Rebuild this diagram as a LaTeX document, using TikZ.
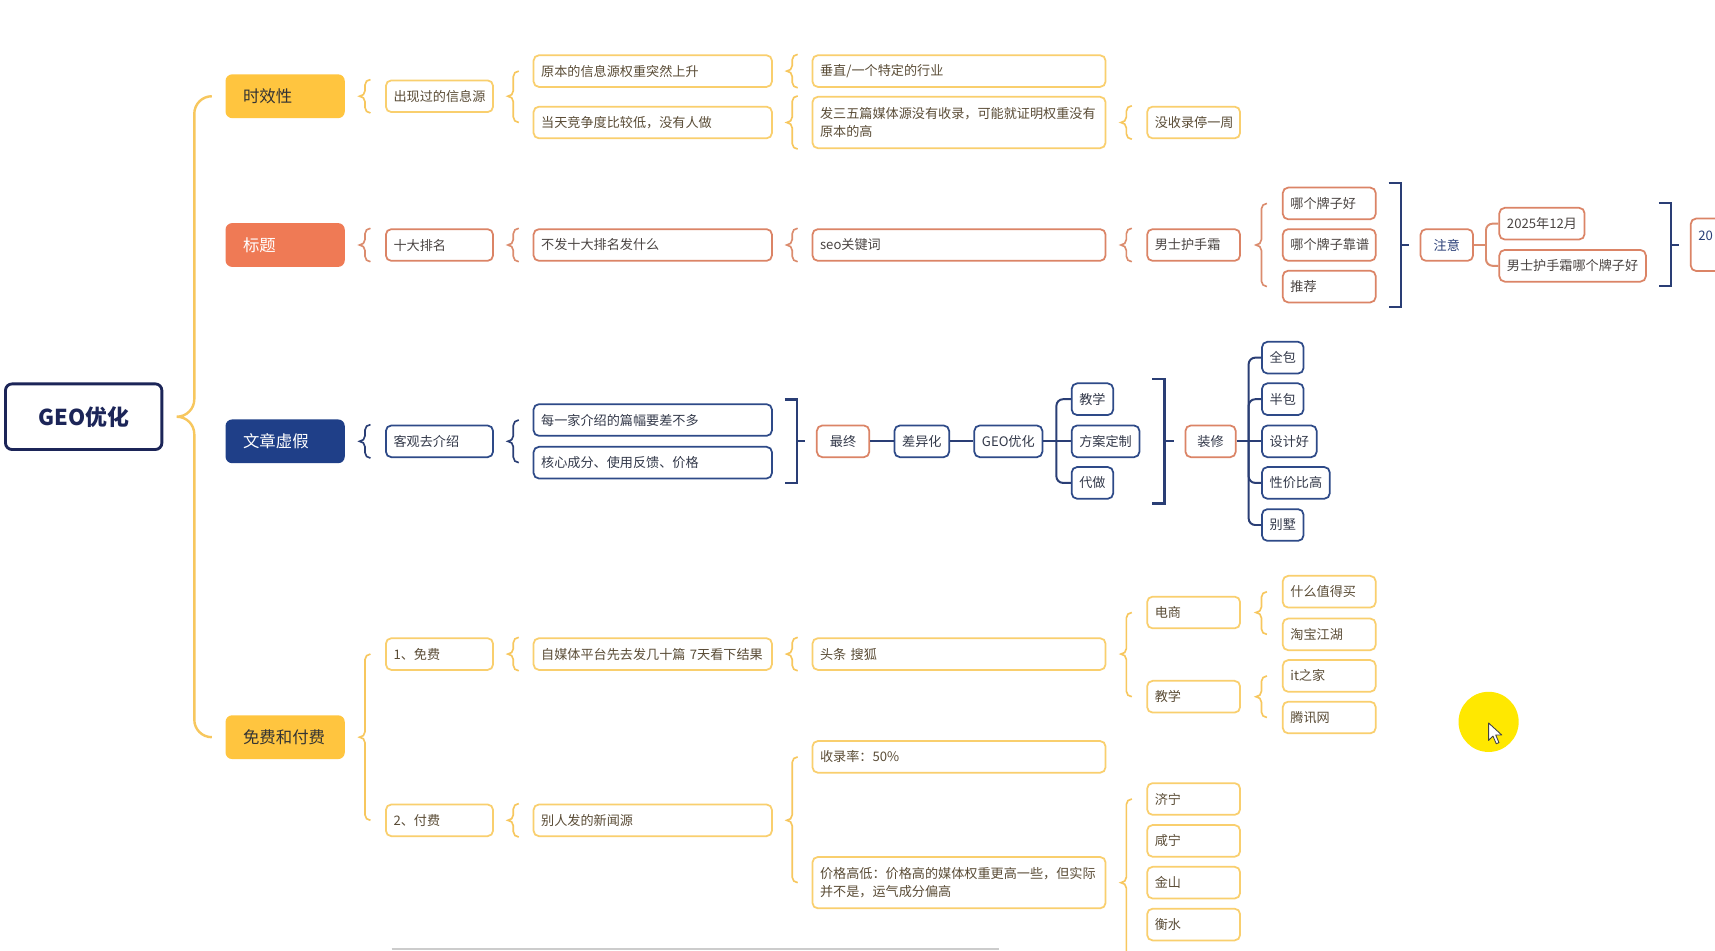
\documentclass[tikz,border=0pt]{standalone}
\usepackage{fontspec}
\setmainfont{Noto Sans CJK SC}
\usetikzlibrary{calc}
\definecolor{yfill}{HTML}{FFC53F}
\definecolor{ofill}{HTML}{EF7A55}
\definecolor{nfill}{HTML}{1F3F88}
\definecolor{ybord}{HTML}{F9CF6E}
\definecolor{obord}{HTML}{DB8466}
\definecolor{nbord}{HTML}{2E4A88}
\definecolor{ylinec}{HTML}{F7C75E}
\definecolor{olinec}{HTML}{DB8C6E}
\definecolor{nlinec}{HTML}{2A3E75}
\definecolor{ytext}{HTML}{5A4C36}
\definecolor{otext}{HTML}{4A4442}
\definecolor{ntext}{HTML}{33394A}
\definecolor{dtext}{HTML}{333333}
\definecolor{geoc}{HTML}{1C2558}
\definecolor{zyc}{HTML}{2B4078}
\tikzset{
  boxbase/.style={rounded corners=5pt, line width=1.6pt, inner xsep=7pt, inner ysep=0pt,
    minimum height=29pt, font=\fontsize{12}{17}\selectfont, anchor=west, fill=white},
  yb/.style={boxbase, draw=ybord, text=ytext},
  ob/.style={boxbase, draw=obord, text=otext},
  nb/.style={boxbase, draw=nbord, text=ntext},
  tw/.style={text width=#1, align=left},
  lvlone/.style={rounded corners=6pt, minimum width=109pt, minimum height=40pt, anchor=west,
    inner xsep=16pt, inner ysep=0pt, text width=77pt, align=left, font=\fontsize{15}{18}\selectfont},
  geobox/.style={draw=geoc, line width=2.6pt, rounded corners=6pt, minimum width=143pt,
    minimum height=60pt, text=geoc, font=\bfseries\fontsize{20}{24}\selectfont},
  ybr/.style={draw=ylinec, line width=1.5pt},
  obr/.style={draw=olinec, line width=1.5pt},
  nbr/.style={draw=nlinec, line width=1.5pt},
  trunk/.style={draw=ylinec, line width=2.2pt},
  brk/.style={draw=nlinec, line width=2pt},
  nconn/.style={draw=nlinec, line width=1.8pt},
  oconn/.style={draw=olinec, line width=1.8pt},
}
% curly brace: style, parent, top point, bottom point, half width
\newcommand\cbr[5]{\draw[#1] let \p0=(#2.east), \p1=(#3), \p2=(#4), \n1={(\x0+\x1)/2} in
  ({\n1+#5},\y1) to[out=180,in=90] (\n1,{\y1-#5}) -- (\n1,{\y0+#5})
  to[out=-90,in=0] ({\n1-#5},\y0) to[out=0,in=90] (\n1,{\y0-#5}) -- (\n1,{\y2+#5})
  to[out=-90,in=180] ({\n1+#5},\y2);}
% square bracket: widest node, top node, bottom node, next node
\newcommand\sqbr[4]{\draw[brk] let \p1=(#1.east), \p2=(#2.north), \p3=(#3.south), \p4=(#4.west) in
  ({\x1+11pt},{\y2+3.5pt}) -- ({\x1+22pt},{\y2+3.5pt}) -- ({\x1+22pt},{\y3-3.5pt}) -- ({\x1+11pt},{\y3-3.5pt})
  ({\x1+22pt},\y4) -- ({\x4-10pt},\y4);}
\begin{document}
\begin{tikzpicture}[x=1pt,y=1pt]
\useasboundingbox (0,0) rectangle (1568,-869);
\fill[white] (0,0) rectangle (1568,-869);
\begin{scope}
\clip (0,0) rectangle (1568,-869);

% root and first level
\node[geobox] (geo) at (76.5,-381) {GEO优化};
\node[lvlone, fill=yfill, text=dtext] (t1) at (206,-88) {时效性};
\node[lvlone, fill=ofill, text=white] (t2) at (206,-224) {标题};
\node[lvlone, fill=nfill, text=white] (t3) at (206,-403.5) {文章虚假};
\node[lvlone, fill=yfill, text=dtext] (t4) at (206,-674) {免费和付费};
\cbr{trunk}{geo}{t1.west}{t4.west}{16pt}

% level 2
\node[yb, tw=84pt] (a1) at (352,-88) {出现过的信息源};
\node[ob, tw=84pt] (b1) at (352,-224) {十大排名};
\node[nb, tw=84pt] (c1) at (352,-403.5) {客观去介绍};
\node[yb, tw=84pt] (d1) at (352,-598) {1、免费};
\node[yb, tw=84pt] (e1) at (352,-750) {2、付费};
\cbr{ybr}{t1}{a1.north west}{a1.south west}{5pt}
\cbr{obr}{t2}{b1.north west}{b1.south west}{5pt}
\cbr{nbr}{t3}{c1.north west}{c1.south west}{5pt}
\cbr{ybr}{t4}{d1.west}{e1.west}{5pt}

% level 3
\node[yb, tw=204pt] (a2) at (487,-65) {原本的信息源权重突然上升};
\node[yb, tw=204pt] (a3) at (487,-112) {当天竞争度比较低，没有人做};
\node[ob, tw=204pt] (b2) at (487,-224) {不发十大排名发什么};
\node[nb, tw=204pt] (c2) at (487,-384) {每一家介绍的篇幅要差不多};
\node[nb, tw=204pt] (c3) at (487,-423) {核心成分、使用反馈、价格};
\node[yb, tw=204pt] (d2) at (487,-598) {自媒体平台先去发几十篇~7天看下结果};
\node[yb, tw=204pt] (e2) at (487,-750) {别人发的新闻源};
\cbr{ybr}{a1}{a2.west}{a3.west}{5pt}
\cbr{obr}{b1}{b2.north west}{b2.south west}{5pt}
\cbr{nbr}{c1}{c2.west}{c3.west}{5pt}
\cbr{ybr}{d1}{d2.north west}{d2.south west}{5pt}
\cbr{ybr}{e1}{e2.north west}{e2.south west}{5pt}

% level 4
\node[yb, tw=254pt] (a4) at (742,-65) {垂直/一个特定的行业};
\node[yb, tw=254pt, minimum height=47pt] (a5) at (742,-112) {发三五篇媒体源没有收录，可能就证明权重没有\\原本的高};
\node[ob, tw=254pt] (b3) at (742,-224) {seo关键词};
\node[yb, tw=254pt] (d3) at (742,-598) {头条~搜狐};
\node[yb, tw=254pt] (e3) at (742,-692) {收录率：50\%};
\node[yb, tw=254pt, minimum height=47pt] (e4) at (742,-807) {价格高低：价格高的媒体权重更高一些，但实际\\并不是，运气成分偏高};
\cbr{ybr}{a2}{a4.north west}{a4.south west}{5pt}
\cbr{ybr}{a3}{a5.north west}{a5.south west}{5pt}
\cbr{obr}{b2}{b3.north west}{b3.south west}{5pt}
\cbr{ybr}{d2}{d3.north west}{d3.south west}{5pt}
\cbr{ybr}{e2}{e3.west}{e4.west}{5pt}

% level 5
\node[yb, tw=71pt] (a6) at (1048,-112) {没收录停一周};
\node[ob, tw=71pt] (b4) at (1048,-224) {男士护手霜};
\node[yb, tw=71pt] (d4) at (1048,-560) {电商};
\node[yb, tw=71pt] (d5) at (1048,-637) {教学};
\node[yb, tw=71pt] (f1) at (1048,-730.5) {济宁};
\node[yb, tw=71pt] (f2) at (1048,-768.8) {咸宁};
\node[yb, tw=71pt] (f3) at (1048,-807) {金山};
\node[yb, tw=71pt] (f4) at (1048,-845.3) {衡水};
\coordinate (fmore) at (1048,-883.6);
\cbr{ybr}{a5}{a6.north west}{a6.south west}{5pt}
\cbr{obr}{b3}{b4.north west}{b4.south west}{5pt}
\cbr{ybr}{d3}{d4.west}{d5.west}{5pt}
\cbr{ybr}{e4}{f1.west}{fmore}{5pt}

% level 6
\node[ob, tw=71pt] (b5) at (1172,-186) {哪个牌子好};
\node[ob, tw=71pt] (b6) at (1172,-224) {哪个牌子靠谱};
\node[ob, tw=71pt] (b7) at (1172,-262) {推荐};
\node[yb, tw=71pt] (g1) at (1172,-541) {什么值得买};
\node[yb, tw=71pt] (g2) at (1172,-580) {淘宝江湖};
\node[yb, tw=71pt] (g3) at (1172,-618) {it之家};
\node[yb, tw=71pt] (g4) at (1172,-656) {腾讯网};
\cbr{obr}{b4}{b5.west}{b7.west}{5pt}
\cbr{ybr}{d4}{g1.west}{g2.west}{5pt}
\cbr{ybr}{d5}{g3.west}{g4.west}{5pt}

% summary chain of the title row
\node[ob, text=zyc, inner xsep=12pt] (zy) at (1298,-224) {注意};
\node[ob] (h1) at (1370,-204.5) {2025年12月};
\node[ob] (h2) at (1370,-243) {男士护手霜哪个牌子好};
\node[ob, anchor=north west, minimum height=48pt, text width=60pt, align=left, text=zyc] (p1) at (1545,-199) {20\\\mbox{}};
\sqbr{b6}{b5}{b7}{zy}
\draw[oconn] (zy.east) -- ++(11pt,0) coordinate (jz);
\draw[oconn, rounded corners=6pt] (jz) |- (h1.west);
\draw[oconn, rounded corners=6pt] (jz) |- (h2.west);
\sqbr{h2}{h1}{h2}{p1}

% summary chain of the article row
\node[ob, text=ntext, inner xsep=12pt] (zz) at (746,-403.5) {最终};
\node[nb] (cy) at (817,-403.5) {差异化};
\node[nb] (gy) at (890,-403.5) {GEO优化};
\node[nb] (k1) at (979,-365) {教学};
\node[nb] (k2) at (979,-403.5) {方案定制};
\node[nb] (k3) at (979,-441.5) {代做};
\node[ob, text=ntext, inner xsep=11pt] (zx) at (1083,-403.5) {装修};
\node[nb] (m1) at (1153,-327) {全包};
\node[nb] (m2) at (1153,-365) {半包};
\node[nb] (m3) at (1153,-403.5) {设计好};
\node[nb] (m4) at (1153,-441.5) {性价比高};
\node[nb] (m5) at (1153,-480) {别墅};
\sqbr{c2}{c2}{c3}{zz}
\draw[nconn] (zz) -- (cy);
\draw[nconn] (cy) -- (gy);
\draw[nconn] (gy) -- (k2);
\coordinate (jg) at ($(gy.east)+(12pt,0)$);
\draw[nconn, rounded corners=6pt] (jg) |- (k1.west);
\draw[nconn, rounded corners=6pt] (jg) |- (k3.west);
\sqbr{k2}{k1}{k3}{zx}
\draw[nconn] (zx) -- (m3);
\coordinate (jm) at ($(zx.east)+(11pt,0)$);
\draw[nconn, rounded corners=6pt] (jm) |- (m1.west);
\draw[nconn, rounded corners=6pt] (jm) |- (m2.west);
\draw[nconn, rounded corners=6pt] (jm) |- (m4.west);
\draw[nconn, rounded corners=6pt] (jm) |- (m5.west);

% scroll bar and pointer highlight
\draw[line width=2pt, draw=black!20] (358,-867.5) -- (913,-867.5);
\fill[fill={rgb,255:red,255;green,232;blue,0}] (1361,-660) circle (27.5pt);
\draw[fill=white, draw=black!75, line width=0.8pt, line join=round]
  (1361,-661) -- (1361,-677) -- (1365,-673) -- (1368,-680) -- (1370.5,-679) -- (1367.5,-672) -- (1373,-672) -- cycle;
\end{scope}
\end{tikzpicture}
\end{document}
